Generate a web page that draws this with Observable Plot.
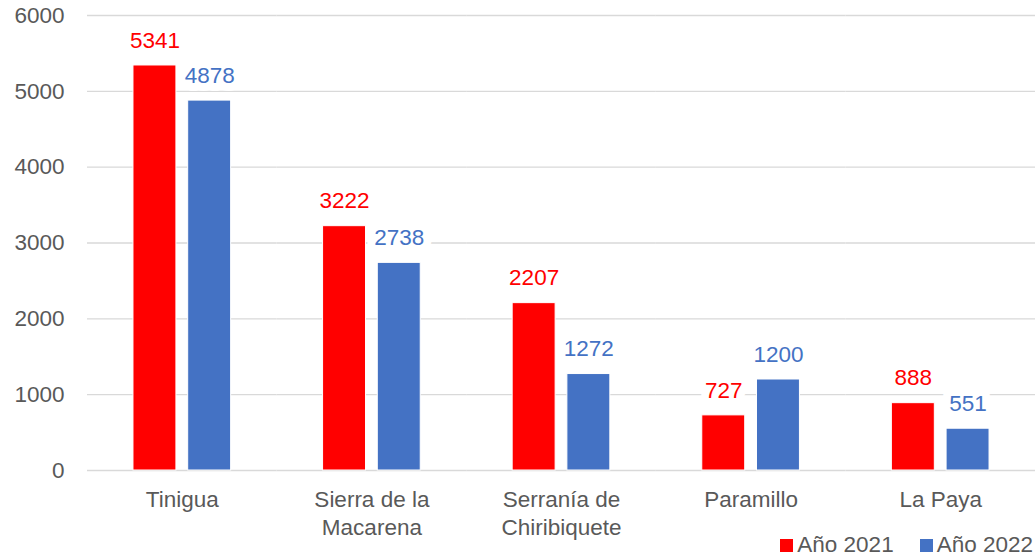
<!DOCTYPE html>
<html>
<head>
<meta charset="utf-8">
<script src="https://cdn.jsdelivr.net/npm/d3@7"></script>
<script src="https://cdn.jsdelivr.net/npm/@observablehq/plot@0.6"></script>
<style>
  html, body { margin: 0; padding: 0; background: #fff; }
  body { width: 1035px; height: 560px; overflow: hidden; font-family: "Liberation Sans", Arial, sans-serif; }
  #legend { height: 30px; display: flex; justify-content: flex-end; align-items: center; font-size: 22.5px; color: #595959; padding-right: 2px; }
  #legend .item { display: flex; align-items: center; margin-left: 26px; }
  #legend .sw { width: 13px; height: 13px; margin-right: 4px; }
</style>
</head>
<body>
<div id="chart"></div>
<div id="legend"></div>
<script>
const categories = ["Tinigua", "Sierra de la Macarena", "Serranía de Chiribiquete", "Paramillo", "La Paya"];
const categoryLabels = ["Tinigua", "Sierra de la\nMacarena", "Serranía de\nChiribiquete", "Paramillo", "La Paya"];
const series = ["Año 2021", "Año 2022"];
const values2021 = [5341, 3222, 2207, 727, 888];
const values2022 = [4878, 2738, 1272, 1200, 551];
const colors = ["#FF0000", "#4472C4"];
const yTicks = [0, 1000, 2000, 3000, 4000, 5000, 6000];

const data = categories.flatMap((c, i) => [
  {cat: c, series: series[0], value: values2021[i]},
  {cat: c, series: series[1], value: values2022[i]}
]);

const chart = Plot.plot({
  width: 1035,
  height: 530,
  marginLeft: 87,
  marginRight: 0,
  marginTop: 15,
  marginBottom: 60,
  style: {fontFamily: '"Liberation Sans", Arial, sans-serif', fontSize: "22.5px", color: "#595959", background: "white", overflow: "visible"},
  fx: {domain: categories, padding: 0, label: null, axis: null, round: false},
  x: {domain: series, paddingInner: 0.215, paddingOuter: 0.84, axis: null, round: false},
  y: {domain: [0, 6000], label: null, axis: null},
  color: {domain: series, range: colors},
  marks: [
    Plot.gridY(yTicks, {stroke: "#d9d9d9", strokeOpacity: 1, strokeWidth: 1.3}),
    Plot.axisY(yTicks, {tickSize: 0, tickPadding: 23, label: null, fill: "#595959", tickFormat: d => String(d)}),
    Plot.axisFx({anchor: "bottom", tickSize: 0, tickPadding: 16, lineHeight: 1.27, label: null, fill: "#595959",
      tickFormat: d => categoryLabels[categories.indexOf(d)]}),
    Plot.barY(data, {fx: "cat", x: "series", y: "value", fill: "series", stroke: "white", strokeWidth: 1}),
    Plot.text(data, {fx: "cat", x: "series", y: "value", text: d => String(d.value), dy: -25,
      fill: "series", stroke: "white", strokeWidth: 16, strokeLinejoin: "round", paintOrder: "stroke", fontSize: 22.5})
  ]
});
document.getElementById("chart").appendChild(chart);

const legend = document.getElementById("legend");
series.forEach((s, i) => {
  const item = document.createElement("div");
  item.className = "item";
  const sw = document.createElement("span");
  sw.className = "sw";
  sw.style.background = colors[i];
  const t = document.createElement("span");
  t.textContent = s;
  item.appendChild(sw);
  item.appendChild(t);
  legend.appendChild(item);
});
</script>
</body>
</html>
